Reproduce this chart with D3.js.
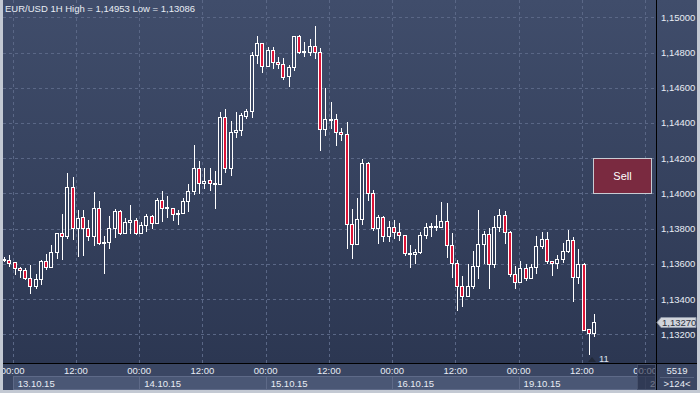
<!DOCTYPE html>
<html>
<head>
<meta charset="utf-8">
<script src="https://cdn.jsdelivr.net/npm/d3@7"></script>
<style>
body { margin:0; background:#c3c9d3; }
svg { display:block; font-family:"Liberation Sans", Arial, sans-serif; }
</style>
</head>
<body>
<div id="chart"></div>
<script>
// hourly candles, first one is 12.10 22:00 (hour -2 from 13.10 00:00)
var firstHour = -2;
var opens = [1.13625,1.13624,1.13608,1.13574,1.13563,1.13518,1.13476,1.13512,1.13614,1.13580,
  1.13669,1.13773,1.13756,1.14034,1.13802,1.13864,1.13802,1.13760,1.13915,1.13716,
  1.13725,1.13802,1.13900,1.13777,1.13836,1.13849,1.13777,1.13820,1.13871,1.13830,
  1.13962,1.13919,1.13915,1.13883,1.13887,1.13958,1.14013,1.14142,1.14057,1.14076,
  1.14052,1.14052,1.14432,1.14142,1.14350,1.14358,1.14441,1.14468,1.14784,1.14852,
  1.14725,1.14814,1.14744,1.14733,1.14667,1.14719,1.14894,1.14805,1.14801,1.14835,
  1.14801,1.14364,1.14421,1.14421,1.14347,1.14336,1.13824,1.13711,1.13853,1.14171,
  1.14000,1.13805,1.13864,1.13760,1.13808,1.13782,1.13764,1.13660,1.13654,1.13665,
  1.13764,1.13811,1.13815,1.13811,1.13843,1.13707,1.13603,1.13476,1.13419,1.13474,
  1.13589,1.13711,1.13767,1.13597,1.13808,1.13877,1.13779,1.13540,1.13495,1.13574,
  1.13518,1.13580,1.13701,1.13739,1.13618,1.13603,1.13625,1.13673,1.13735,1.13527,
  1.13599,1.13230,1.13205];
var highs = [1.13640,1.13653,1.13610,1.13583,1.13578,1.13593,1.13542,1.13620,1.13654,1.13707,
  1.13773,1.13881,1.14116,1.14091,1.13906,1.13906,1.13849,1.14006,1.13957,1.13758,
  1.13871,1.13911,1.13906,1.13858,1.13934,1.13858,1.13839,1.13883,1.13877,1.13972,
  1.14015,1.13985,1.13915,1.13906,1.13972,1.14053,1.14275,1.14186,1.14145,1.14146,
  1.14127,1.14460,1.14478,1.14411,1.14460,1.14455,1.14479,1.14801,1.14894,1.14852,
  1.14833,1.14833,1.14773,1.14767,1.14729,1.14894,1.14900,1.14858,1.14877,1.14953,
  1.14824,1.14597,1.14517,1.14449,1.14370,1.14404,1.13911,1.13972,1.14194,1.14180,
  1.14019,1.13877,1.13871,1.13843,1.13849,1.13830,1.13764,1.13707,1.13684,1.13779,
  1.13830,1.13830,1.13877,1.13953,1.13944,1.13773,1.13622,1.13531,1.13597,1.13673,
  1.13906,1.13786,1.13802,1.13873,1.13911,1.13900,1.13786,1.13589,1.13616,1.13599,
  1.13599,1.13758,1.13779,1.13779,1.13618,1.13650,1.13720,1.13792,1.13754,1.13684,
  1.13606,1.13230,1.13315];
var lows = [1.13615,1.13587,1.13540,1.13527,1.13514,1.13436,1.13464,1.13484,1.13569,1.13580,
  1.13631,1.13627,1.13748,1.13741,1.13646,1.13650,1.13735,1.13707,1.13711,1.13549,
  1.13688,1.13754,1.13769,1.13777,1.13777,1.13769,1.13773,1.13788,1.13802,1.13830,
  1.13845,1.13867,1.13849,1.13826,1.13887,1.13902,1.13996,1.14000,1.14029,1.14019,
  1.13915,1.14052,1.14123,1.14104,1.14322,1.14332,1.14426,1.14435,1.14739,1.14688,
  1.14725,1.14710,1.14710,1.14650,1.14612,1.14701,1.14796,1.14782,1.14786,1.14767,
  1.14246,1.14332,1.14370,1.14275,1.14303,1.13691,1.13631,1.13711,1.13826,1.13962,
  1.13792,1.13720,1.13731,1.13731,1.13745,1.13735,1.13650,1.13583,1.13603,1.13660,
  1.13748,1.13760,1.13792,1.13811,1.13640,1.13527,1.13337,1.13362,1.13419,1.13461,
  1.13521,1.13603,1.13464,1.13583,1.13788,1.13720,1.13531,1.13464,1.13495,1.13508,
  1.13518,1.13549,1.13688,1.13603,1.13536,1.13574,1.13612,1.13669,1.13389,1.13492,
  1.13224,1.13086,1.13192];
var closes = [1.13630,1.13607,1.13574,1.13563,1.13518,1.13476,1.13512,1.13614,1.13580,1.13669,
  1.13773,1.13756,1.14034,1.13802,1.13858,1.13802,1.13760,1.13915,1.13716,1.13725,
  1.13802,1.13900,1.13777,1.13836,1.13849,1.13777,1.13820,1.13871,1.13830,1.13962,
  1.13919,1.13921,1.13883,1.13889,1.13958,1.14013,1.14142,1.14057,1.14072,1.14057,
  1.14057,1.14432,1.14142,1.14350,1.14358,1.14445,1.14468,1.14784,1.14852,1.14725,
  1.14814,1.14744,1.14733,1.14663,1.14719,1.14894,1.14805,1.14809,1.14835,1.14801,
  1.14364,1.14421,1.14422,1.14347,1.14336,1.13824,1.13711,1.13853,1.14171,1.14000,
  1.13805,1.13864,1.13760,1.13808,1.13782,1.13764,1.13660,1.13654,1.13665,1.13764,
  1.13811,1.13815,1.13811,1.13843,1.13707,1.13603,1.13476,1.13419,1.13474,1.13589,
  1.13711,1.13767,1.13597,1.13808,1.13877,1.13779,1.13540,1.13495,1.13574,1.13518,
  1.13580,1.13701,1.13739,1.13618,1.13603,1.13625,1.13673,1.13735,1.13527,1.13599,
  1.13226,1.13205,1.13270];

var priceTicks = [1.132,1.134,1.136,1.138,1.140,1.142,1.144,1.146,1.148,1.150];
var timeTicks = [0,12,24,36,48,60,72,84,96,108,120];
var timeLabels = ["00:00","12:00","00:00","12:00","00:00","12:00","00:00","12:00","00:00","12:00","00:00"];
var dayStarts = [0,24,48,72,96,120];
var dayLabels = ["13.10.15","14.10.15","15.10.15","16.10.15","19.10.15","20.10.15"];

var lastPrice = 1.13270;
var high = 1.14953, low = 1.13086;

var W = 700, H = 393;
var plotLeft = 3, plotRight = 656, plotTop = 0, plotBottom = 363;

var svg = d3.select("#chart").append("svg")
    .attr("width", W)
    .attr("height", H);

var defs = svg.append("defs");
var grad = defs.append("linearGradient")
    .attr("id", "bg")
    .attr("gradientUnits", "userSpaceOnUse")
    .attr("x1", 0).attr("y1", 0).attr("x2", 0).attr("y2", plotBottom);
grad.append("stop").attr("offset", "0%").attr("stop-color", "#404d6b");
grad.append("stop").attr("offset", "100%").attr("stop-color", "#2c3752");

defs.append("clipPath").attr("id", "plotclip")
  .append("rect").attr("x", plotLeft).attr("y", plotTop)
  .attr("width", plotRight - plotLeft).attr("height", plotBottom - plotTop);
defs.append("clipPath").attr("id", "axisclip")
  .append("rect").attr("x", plotLeft).attr("y", plotBottom)
  .attr("width", plotRight - plotLeft).attr("height", 27);

// frame + panels
svg.append("rect").attr("width", W).attr("height", H).attr("fill", "#c3c9d3");
svg.append("rect").attr("x", plotLeft).attr("y", 0).attr("width", 697 - plotLeft).attr("height", plotBottom)
    .attr("fill", "url(#bg)");
svg.append("rect").attr("x", plotLeft).attr("y", plotBottom).attr("width", 697 - plotLeft).attr("height", 390 - plotBottom)
    .attr("fill", "#3a4663");

var x = d3.scaleLinear().domain([0, 120]).range([12.7, 645.1]);
var y = d3.scaleLinear().domain([1.132, 1.150]).range([334.3, 17.3]);

var plot = svg.append("g").attr("clip-path", "url(#plotclip)");

// grid
plot.selectAll(".hgrid").data(priceTicks).enter().append("line")
    .attr("x1", plotLeft).attr("x2", plotRight)
    .attr("y1", function(d) { return Math.round(y(d)) + 0.5; })
    .attr("y2", function(d) { return Math.round(y(d)) + 0.5; })
    .attr("stroke", "#5a6786").attr("stroke-dasharray", "3,3");
plot.selectAll(".vgrid").data(timeTicks).enter().append("line")
    .attr("y1", plotTop).attr("y2", plotBottom)
    .attr("x1", function(d) { return Math.round(x(d)) + 0.5; })
    .attr("x2", function(d) { return Math.round(x(d)) + 0.5; })
    .attr("stroke", "#5a6786").attr("stroke-dasharray", "3,3");

var candles = opens.map(function(o, i) {
  return { t: firstHour + i, o: o, h: highs[i], l: lows[i], c: closes[i] };
});
function cx(d) { return Math.round(x(d.t + 0.35)); }

plot.selectAll(".wick").data(candles).enter().append("line")
    .attr("x1", function(d) { return cx(d) + 0.5; })
    .attr("x2", function(d) { return cx(d) + 0.5; })
    .attr("y1", function(d) { return Math.round(y(d.h)); })
    .attr("y2", function(d) { return Math.round(y(d.l)) + 1; })
    .attr("stroke", "#ffffff");

plot.selectAll(".body").data(candles).enter().append("rect")
    .attr("x", function(d) { return cx(d) - 1.5; })
    .attr("width", 3)
    .attr("y", function(d) { return Math.round(y(Math.max(d.o, d.c))) + 0.5; })
    .attr("height", function(d) {
      return Math.max(1, Math.round(y(Math.min(d.o, d.c))) - Math.round(y(Math.max(d.o, d.c))));
    })
    .attr("fill", function(d) { return d.c >= d.o ? "url(#bg)" : "#dc1437"; })
    .attr("stroke", "#ffffff");

// axis lines
svg.append("line").attr("x1", plotRight + 0.5).attr("x2", plotRight + 0.5).attr("y1", 0).attr("y2", 390)
    .attr("stroke", "#000");
svg.append("line").attr("x1", plotLeft).attr("x2", 697).attr("y1", plotBottom + 0.5).attr("y2", plotBottom + 0.5)
    .attr("stroke", "#000");

// price labels
svg.selectAll(".ptick").data(priceTicks).enter().append("text")
    .attr("x", 661).attr("y", function(d) { return y(d) + 3.5; })
    .attr("fill", "#e8ecf4").style("font-size", "9.5px")
    .text(function(d) { return d3.format(".5f")(d).replace(".", ","); });

// last price tag
var ly = Math.round(y(lastPrice)) + 0.5;
svg.append("path")
    .attr("d", "M657," + ly + "L661," + (ly - 5) + "L696," + (ly - 5) + "L696," + (ly + 5) + "L661," + (ly + 5) + "Z")
    .attr("fill", "#d0d4db").attr("stroke", "#8d96a6");
svg.append("text").attr("x", 662).attr("y", ly + 3.5)
    .attr("fill", "#2a3040").style("font-size", "9.5px")
    .text(d3.format(".5f")(lastPrice).replace(".", ","));

// time axis
var axis = svg.append("g").attr("clip-path", "url(#axisclip)");
axis.selectAll(".dbox").data(dayStarts).enter().append("rect")
    .attr("x", function(d) { return Math.round(x(d)) + 0.5; })
    .attr("y", 376.5)
    .attr("width", function(d) { return Math.round(x(d + 24)) - Math.round(x(d)); })
    .attr("height", 13)
    .attr("fill", "#4a5775").attr("stroke", "#5e6a88");
axis.selectAll(".dlab").data(dayStarts).enter().append("text")
    .attr("x", function(d) { return x(d) + 5; })
    .attr("y", 387)
    .attr("fill", "#e8ecf4").style("font-size", "9.5px")
    .text(function(d, i) { return dayLabels[i]; });
axis.selectAll(".tlab").data(timeTicks).enter().append("text")
    .attr("x", function(d) { return x(d); })
    .attr("y", 374)
    .attr("text-anchor", "middle")
    .attr("fill", "#e8ecf4").style("font-size", "9.5px")
    .text(function(d, i) { return timeLabels[i]; });
// scroller shade at the right end of the time axis
svg.append("rect").attr("x", 637.5).attr("y", 364.5).attr("width", 18).attr("height", 25)
    .attr("fill", "#1f2740").attr("fill-opacity", 0.6).attr("stroke", "#46516c");

// corner box
svg.append("line").attr("x1", 660).attr("x2", 694).attr("y1", 377.5).attr("y2", 377.5).attr("stroke", "#56627e");
svg.append("text").attr("x", 677).attr("y", 374).attr("text-anchor", "middle")
    .attr("fill", "#e8ecf4").style("font-size", "9.5px").text("5519");
svg.append("text").attr("x", 677).attr("y", 387).attr("text-anchor", "middle")
    .attr("fill", "#e8ecf4").style("font-size", "9.5px").text(">124<");

// title
svg.append("text").attr("x", 5).attr("y", 11.5)
    .attr("fill", "#e8ecf4").style("font-size", "9.5px")
    .text("EUR/USD 1H High = " + d3.format(".5f")(high).replace(".", ",") +
          " Low = " + d3.format(".5f")(low).replace(".", ","));

// sell button
svg.append("rect").attr("x", 593.5).attr("y", 158.5).attr("width", 58).attr("height", 35)
    .attr("fill", "#7a2a40").attr("stroke", "#c9ccd3");
svg.append("text").attr("x", 622.5).attr("y", 180).attr("text-anchor", "middle")
    .attr("fill", "#ffffff").style("font-size", "11px").text("Sell");

// marker under the last candles
svg.append("path").attr("d", "M588,362L592,357L596,362Z").attr("fill", "#222a3a");
svg.append("text").attr("x", 599).attr("y", 362)
    .attr("fill", "#dde4ef").style("font-size", "9.5px").text("11");
</script>
</body>
</html>
